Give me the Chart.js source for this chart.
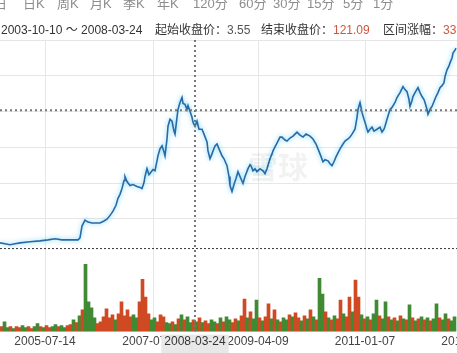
<!DOCTYPE html>
<html>
<head>
<meta charset="utf-8">
<script src="https://cdn.jsdelivr.net/npm/chart.js@4.4.1/dist/chart.umd.min.js"></script>
<style>
body { margin: 0; background: #fff; }
#wrap { position: relative; width: 457px; height: 353px; overflow: hidden; font-family: "Liberation Sans", Arial, "Noto Sans CJK SC", sans-serif; }
#myChart { position: absolute; left: 0; top: 0; }
.tab { position: absolute; top: -4px; font-size: 13px; line-height: 16px; color: #8c8c8c; white-space: nowrap; }
.info { position: absolute; top: 23px; font-size: 12px; line-height: 15px; color: #333; white-space: nowrap; }
.red { color: #d0563e; }
.gray { color: #555; }
#mark { position: absolute; left: 248px; top: 143px; font-size: 30px; font-weight: bold; color: rgba(0,0,0,0.05); font-family: "Noto Sans CJK SC", sans-serif; }
</style>
</head>
<body>
<div id="wrap">
  <canvas id="myChart" width="457" height="353"></canvas>
  <div id="mark">雪球</div>
  <span class="tab" style="left:-6px">日</span>
  <span class="tab" style="left:23px">日K</span>
  <span class="tab" style="left:57px">周K</span>
  <span class="tab" style="left:90px">月K</span>
  <span class="tab" style="left:123px">季K</span>
  <span class="tab" style="left:157px">年K</span>
  <span class="tab" style="left:193px">120分</span>
  <span class="tab" style="left:239px">60分</span>
  <span class="tab" style="left:273px">30分</span>
  <span class="tab" style="left:307px">15分</span>
  <span class="tab" style="left:343px">5分</span>
  <span class="tab" style="left:373px">1分</span>
  <span class="info" id="range" style="left:1px"></span>
  <span class="info" id="startInfo" style="left:155px"></span>
  <span class="info" id="endInfo" style="left:261px"></span>
  <span class="info" id="chgInfo" style="left:383px"></span>
</div>
<script>
// trading day index (left edge of view = 0) and close price
var days = [0,20,40,60,80,120,160,192,220,248,280,312,320,328,340,352,368,400,416,428,
  444,452,464,472,480,488,496,500,508,520,532,548,560,568,576,580,588,596,600,612,
  620,628,632,640,648,656,660,668,672,680,688,696,700,708,712,720,728,732,740,748,
  752,760,768,772,780,788,796,808,816,828,832,840,848,852,860,868,876,888,896,908,
  916,920,928,936,944,952,960,972,980,992,1000,1004,1012,1020,1028,1040,1052,1060,1068,1080,
  1088,1092,1100,1112,1120,1128,1140,1148,1160,1172,1180,1188,1200,1212,1224,1240,1252,1264,1272,1280,
  1292,1300,1312,1320,1328,1336,1344,1352,1360,1372,1380,1392,1400,1408,1420,1428,1432,1440,1444,1448,
  1456,1460,1468,1472,1480,1488,1496,1508,1520,1528,1536,1540,1548,1560,1568,1580,1588,1600,1608,1612,
  1620,1628,1636,1640,1648,1652,1660,1672,1680,1688,1696,1700,1708,1712,1720,1728,1736,1744,1752,1760,
  1768,1776,1780,1788,1796,1800,1808,1812,1820,1824];
var close = [9.9,9.1,8.3,9.1,9.9,10.8,11.6,12.4,13.3,12.4,
  12.4,12.4,14.1,24.0,29.0,27.3,26.5,26.5,28.2,29.8,
  34.0,36.5,41.4,47.2,50.6,55.5,62.2,65.5,61.3,58.0,
  58.8,57.2,56.4,55.5,60.5,65.5,72.1,67.1,68.0,71.3,
  70.4,78.7,82.9,88.7,91.2,86.2,82.9,97.0,107.7,113.5,
  111.9,103.6,101.1,115.2,121.8,127.6,131.8,126.8,126.0,121.8,
  125.1,120.2,115.2,111.0,107.7,111.9,105.2,105.2,101.1,94.5,
  87.0,80.4,84.5,87.0,91.2,92.8,88.7,82.9,80.4,74.6,
  65.5,58.0,53.0,58.8,63.8,69.6,65.5,59.7,65.5,72.1,
  75.4,74.6,70.4,72.1,69.6,72.1,70.4,68.0,72.1,80.4,
  84.5,87.0,90.3,95.3,98.6,98.6,96.1,95.3,97.8,99.4,
  101.1,102.8,100.3,98.6,101.1,99.4,97.0,92.8,88.7,84.5,
  77.9,79.6,78.7,76.2,74.6,77.9,82.0,85.4,88.7,92.8,
  95.3,97.0,98.6,101.1,105.2,115.2,121.8,127.6,123.5,119.3,
  113.5,111.0,105.2,102.8,105.2,106.9,103.6,105.2,106.9,102.8,
  105.2,107.7,113.5,121.8,123.5,127.6,131.8,135.9,139.2,140.9,
  138.4,136.7,130.1,124.3,129.3,132.6,135.9,140.1,135.9,132.6,
  130.1,127.6,121.8,117.7,121.8,124.3,128.4,132.6,135.9,140.1,
  141.7,144.2,149.2,155.0,158.3,160.8,164.9,169.1,171.5,173.2];

// volume, one bar per 12 trading days starting at day 6
var volume = [5,10,4,5,3,5,4,6,4,5, 3,5,8,5,4,6,4,5,7,5,
  6,4,6,7,12,9,16,22,68,30, 24,14,8,10,15,23,14,17,12,18,
  30,16,22,15,17,14,30,53,35,18, 12,14,10,17,15,9,8,10,7,13,
  17,12,15,9,12,10,14,9,11,8, 12,10,8,14,10,15,12,9,13,11,
  16,33,14,20,13,32,14,11,15,28, 13,22,12,10,14,12,17,15,19,14,
  11,16,13,22,15,12,54,38,20,14, 12,16,13,32,18,15,35,20,52,35,
  17,13,15,12,18,32,16,13,30,15, 12,14,11,16,13,12,27,14,11,13,
  15,12,14,11,13,28,14,12,18,13, 11,15];
var volStart = 6, volStep = 12;
// u = closed up, d = closed down
var volDir = ('udduduuddu' + 'udduduuddu' + 'dduududu' + 'ddddu' + 'uuuuuduuuuudd' + 'uuuu' + 'ddu' + 'uu' +
  'ddud' + 'ududdu' + 'duduuddududduudu' + 'ududduduud' + 'ududduduud' + 'udududdudu' +
  'duuduuduud' + 'ududduddud' + 'ududududud' + 'ududduddud' + 'd').split('');

var gridPrices = [30, 60, 90, 120, 150, 180];
var tickDays = [180, 612, 1032, 1460, 1888];
var tickLabels = ['2005-07-14', '2007-07-20', '2009-04-09', '2011-01-07', '2012-10-15'];

var rangeStart = '2003-10-10', rangeEnd = '2008-03-24';
var startClose = 3.55, endClose = 121.09;
var cursorDay = 780;
var volPaneTop = 84;

document.getElementById('range').textContent = rangeStart + ' ～ ' + rangeEnd;
document.getElementById('startInfo').innerHTML = '起始收盘价：<span class="gray">' + startClose.toFixed(2) + '</span>';
document.getElementById('endInfo').innerHTML = '结束收盘价：<span class="red">' + endClose.toFixed(2) + '</span>';
document.getElementById('chgInfo').innerHTML = '区间涨幅：<span class="red">' + ((endClose / startClose - 1) * 100).toFixed(2) + '%</span>';

// light blue halo round the price line
var glow = {
  id: 'glow',
  beforeDatasetDraw: function(chart, args) {
    if (args.index === 1) {
      chart.ctx.save();
      chart.ctx.shadowColor = 'rgba(100,205,245,1)';
      chart.ctx.shadowBlur = 5;
    }
  },
  afterDatasetDraw: function(chart, args) {
    if (args.index === 1) chart.ctx.restore();
  }
};

// dotted cursor lines, pane separator and the date box
var crosshair = {
  id: 'crosshair',
  afterDraw: function(chart) {
    var c = chart.ctx, a = chart.chartArea, s = chart.scales;
    var x = s.x.getPixelForValue(cursorDay);
    var y = s.y.getPixelForValue(endClose);
    var ySplit = s.yv.getPixelForValue(volPaneTop);
    function line(x1, y1, x2, y2) { c.beginPath(); c.moveTo(x1, y1); c.lineTo(x2, y2); c.stroke(); }
    c.save();
    c.strokeStyle = '#777'; c.lineWidth = 2; c.setLineDash([2, 3]);
    line(a.left, y, a.right, y);
    line(x, a.top, x, a.bottom);
    c.strokeStyle = '#333'; c.lineWidth = 1; c.setLineDash([2, 2]);
    line(a.left, ySplit, a.right, ySplit);
    c.setLineDash([]);
    c.font = '12px "Liberation Sans", Arial, sans-serif';
    var w = c.measureText(rangeEnd).width + 6;
    c.fillStyle = '#e8e8e8';
    c.fillRect(x - w / 2, a.bottom + 3, w, 20);
    c.fillStyle = '#333'; c.textAlign = 'center'; c.textBaseline = 'middle';
    c.fillText(rangeEnd, x, a.bottom + 10);
    c.restore();
  }
};

var grapharea = document.getElementById('myChart');
var data = {
  datasets: [{
    type: 'bar',
    label: '成交量',
    data: volume.map(function(v, i) { return { x: volStart + i * volStep, y: v }; }),
    yAxisID: 'yv',
    backgroundColor: volDir.map(function(d) { return d === 'u' ? '#cf4a22' : '#3f8a32'; }),
    borderWidth: 0,
    barThickness: 3
  }, {
    type: 'line',
    label: '收盘价',
    data: days.map(function(d, i) { return { x: d, y: close[i] }; }),
    yAxisID: 'y',
    borderColor: '#286aa6',
    borderWidth: 1.6,
    pointRadius: 0,
    tension: 0,
    fill: false
  }]
};
var config = {
  data: data,
  options: {
    responsive: false,
    animation: false,
    devicePixelRatio: 1,
    layout: { padding: { top: 40, left: 0, right: 0, bottom: 1 } },
    plugins: { legend: { display: false }, tooltip: { enabled: false } },
    scales: {
      x: {
        type: 'linear', min: 0, max: 1828, offset: false,
        afterBuildTicks: function(s) { s.ticks = tickDays.map(function(v) { return { value: v }; }); },
        afterFit: function(s) { s.paddingLeft = 0; s.paddingRight = 0; },
        ticks: {
          autoSkip: false, maxRotation: 0, padding: 3, color: '#444',
          font: { family: '"Liberation Sans", Arial, sans-serif', size: 12 },
          callback: function(v, i) { return tickLabels[i]; }
        },
        grid: { color: '#e6e6e6', drawTicks: false, offset: false },
        border: { display: false }
      },
      y: {
        position: 'left', min: -64.5, max: 180,
        afterBuildTicks: function(s) { s.ticks = gridPrices.map(function(v) { return { value: v }; }); },
        afterFit: function(s) { s.width = 0; },
        ticks: { display: false },
        grid: { color: '#e6e6e6', drawTicks: false },
        border: { display: false }
      },
      yv: { display: false, min: 0, max: 295 }
    }
  },
  plugins: [glow, crosshair]
};
var myChart = new Chart(grapharea, config);
</script>
</body>
</html>
